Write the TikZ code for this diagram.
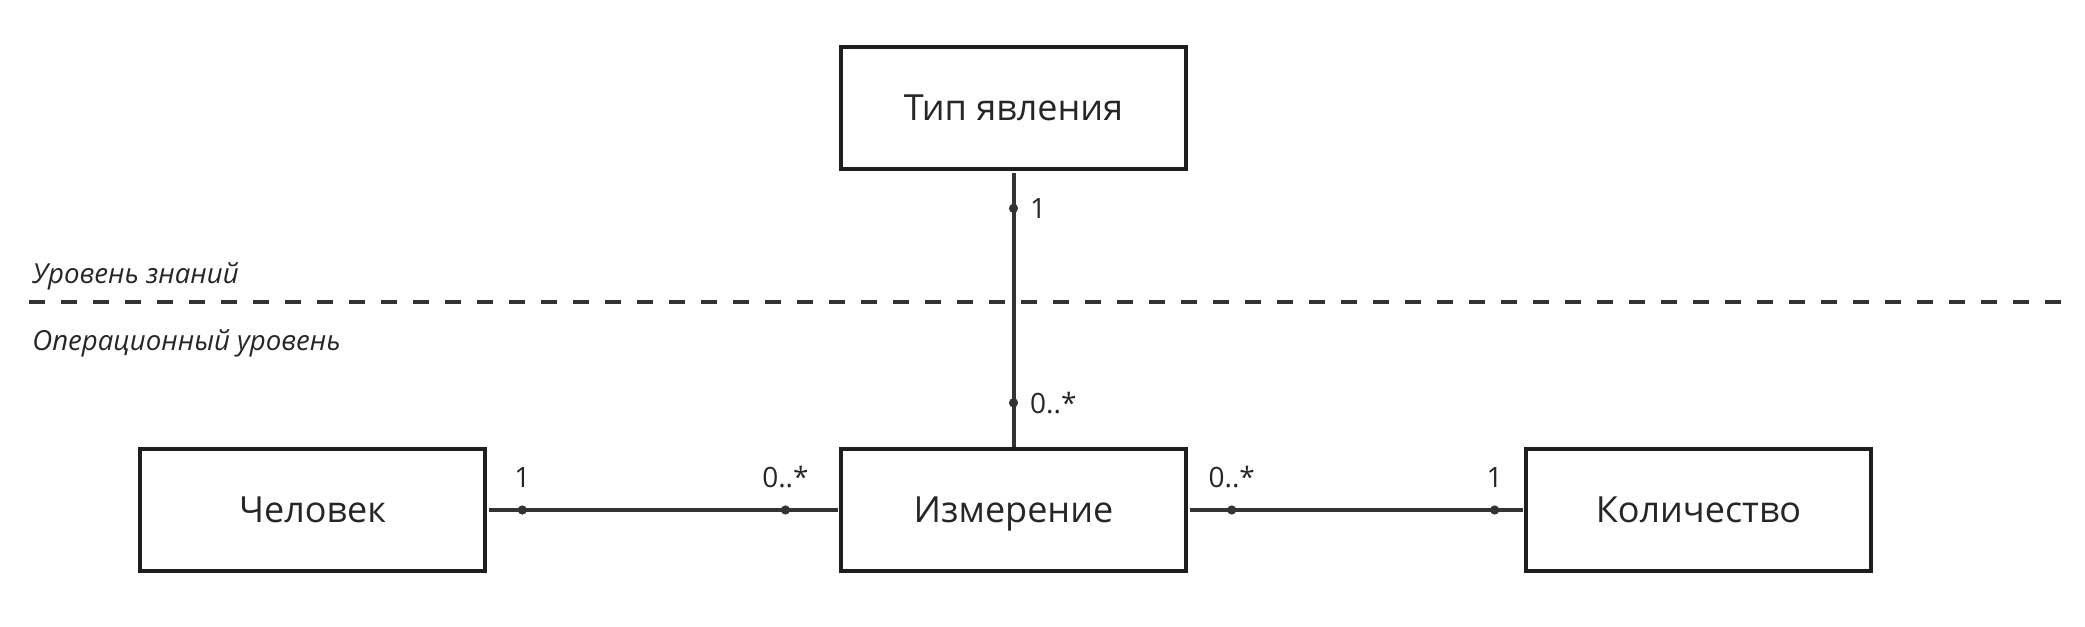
\documentclass[tikz,border=0pt]{standalone}
\usepackage{fontspec}
\setmainfont{Open Sans}
\definecolor{boxline}{HTML}{1E1E1E}
\definecolor{linkline}{HTML}{333333}
\definecolor{textcol}{HTML}{262626}
\begin{document}
\begin{tikzpicture}[x=0.5pt, y=-0.5pt,
    entity/.style={draw=boxline, line width=2.1pt, rectangle, minimum width=172.5pt,
        minimum height=61pt, inner sep=0pt, text height=12.6pt, text depth=0pt,
        text=textcol, font=\fontsize{18}{22}\selectfont},
    link/.style={draw=linkline, line width=2pt},
    enddot/.style={circle, fill=linkline, inner sep=0pt, minimum size=4.6pt},
    mult/.style={inner sep=0pt, text=textcol, font=\fontsize{14}{16}\selectfont},
    layer/.style={inner sep=0pt, text=textcol, font=\fontsize{13.8}{16}\selectfont\itshape}]
    % Рамка рисунка
    \useasboundingbox (0,0) rectangle (2085,627);

    % Классы
    \node[entity] (tip) at (1013.5,108) {Тип явления};
    \node[entity] (chel) at (312.5,510) {Человек};
    \node[entity] (izm) at (1013.5,510) {Измерение};
    \node[entity] (kol) at (1698.5,510) {Количество};

    % Граница уровней
    \draw[linkline, line width=1.6pt, dash pattern=on 8pt off 8pt] (29,302) -- (2061,302);
    \node[layer, anchor=base west] (znan) at (32,283) {Уровень знаний};
    \node[layer, anchor=base west] (oper) at (32,350) {Операционный уровень};

    % Связи с кратностями
    \draw[link, shorten <=1pt] (tip.south) --
        node[enddot, pos=0.135, label={[mult, label distance=4pt]right:1}] (d1) {}
        node[enddot, pos=0.84, label={[mult, label distance=4pt]right:0..*}] (d2) {}
        (izm.north);
    \draw[link, shorten <=1pt, shorten >=0.5pt] (chel.east) --
        node[enddot, pos=0.1, label={[mult, label distance=7pt]above:1}] (d3) {}
        node[enddot, pos=0.848, label={[mult, label distance=7pt]above:0..*}] (d4) {}
        (izm.west);
    \draw[link, shorten <=1pt, shorten >=0.5pt] (izm.east) --
        node[enddot, pos=0.13, label={[mult, label distance=7pt]above:0..*}] (d5) {}
        node[enddot, pos=0.913, label={[mult, label distance=7pt]above:1}] (d6) {}
        (kol.west);
\end{tikzpicture}
\end{document}
